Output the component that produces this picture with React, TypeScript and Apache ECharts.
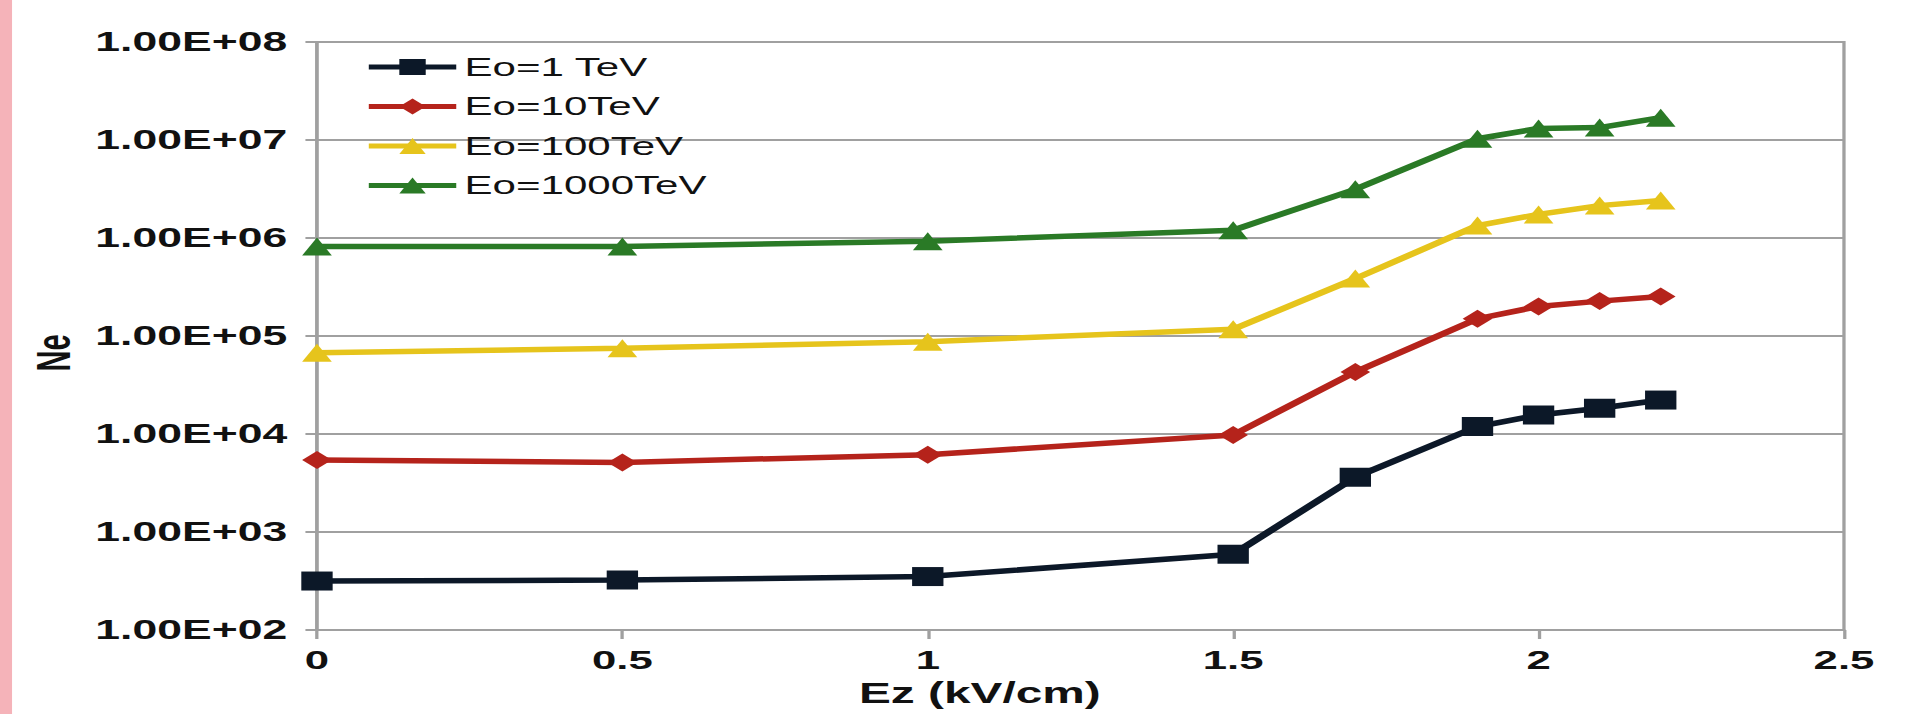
import React, { useEffect, useRef } from "react";
import * as echarts from "echarts";

// ---- data ----
const ezValues = [0, 0.5, 1, 1.5, 1.7, 1.9, 2, 2.1, 2.2];
const seriesNames = ["Eo=1 TeV", "Eo=10TeV", "Eo=100TeV", "Eo=1000TeV"];
const ne1TeV = [316, 323, 351, 593, 3630, 11900, 15600, 18300, 22200];
const ne10TeV = [5430, 5130, 6150, 9770, 43000, 150000, 200000, 227000, 253000];
const ne100TeV = [67600, 74800, 87500, 117000, 385000, 1340000, 1740000, 2140000, 2410000];
const ne1000TeV = [820000, 820000, 925000, 1200000, 3140000, 10300000, 13100000, 13400000, 16900000];
const xTicks = [0, 0.5, 1, 1.5, 2, 2.5];

// ---- layout (the reference image is stretched horizontally) ----
const PAGE_W = 1924;
const PAGE_H = 714;
const CHART_W = 1166;
const SX = PAGE_W / CHART_W;

const colors = ["#0c1828", "#b5231b", "#e6c41c", "#2a7a26"];
const symbols = ["rect", "diamond", "triangle", "triangle"];
const symbolSizes = [19, 18, 18, 18];

function pair(values: number[]) {
  return ezValues.map((x, i) => [x, values[i]]);
}

export default function App() {
  const ref = useRef<HTMLDivElement>(null);

  useEffect(() => {
    if (!ref.current) return;
    const chart = echarts.init(ref.current, null, {
      renderer: "svg",
      width: CHART_W,
      height: PAGE_H,
    });
    const allSeries = [ne1TeV, ne10TeV, ne100TeV, ne1000TeV];
    const font = "'Liberation Sans', Arial, sans-serif";
    chart.setOption({
      animation: false,
      backgroundColor: "#ffffff",
      graphic: [
        {
          type: "rect",
          left: 0,
          top: 0,
          shape: { x: 0, y: 0, width: 7.3, height: PAGE_H },
          style: { fill: "#f5b3b9" },
          silent: true,
        },
      ],
      grid: {
        left: 192.1,
        right: 48.5,
        top: 42,
        bottom: 84,
        show: true,
        borderColor: "#a0a0a0",
        borderWidth: 2,
        backgroundColor: "transparent",
        outerBoundsMode: "none",
      },
      legend: {
        orient: "vertical",
        left: 221,
        top: 54,
        padding: 0,
        itemWidth: 53,
        itemHeight: 20,
        itemGap: 13.5,
        data: seriesNames,
        lineStyle: { width: 5 },
        textStyle: { fontFamily: font, fontSize: 25.5, color: "#111" },
      },
      xAxis: {
        type: "value",
        min: xTicks[0],
        max: xTicks[xTicks.length - 1],
        interval: 0.5,
        name: "Ez (kV/cm)",
        nameLocation: "middle",
        nameGap: 46,
        nameTextStyle: {
          fontFamily: font,
          fontSize: 29,
          fontWeight: "bold",
          color: "#111",
          padding: [0, 122, 0, 0],
        },
        axisLine: { show: true, lineStyle: { color: "#a0a0a0", width: 2 } },
        axisTick: { show: true, length: 9, lineStyle: { color: "#a0a0a0", width: 2 } },
        splitLine: { show: false },
        axisLabel: {
          margin: 16,
          fontFamily: font,
          fontSize: 26.5,
          fontWeight: "bold",
          color: "#111",
        },
      },
      yAxis: {
        type: "log",
        logBase: 10,
        min: 100,
        max: 100000000,
        splitNumber: 6,
        name: "Ne",
        nameLocation: "middle",
        nameGap: 144,
        nameTextStyle: {
          fontFamily: font,
          fontSize: 29,
          fontWeight: "bold",
          color: "#111",
          padding: [0, 34, 0, 0],
        },
        axisLine: { show: true, lineStyle: { color: "#a0a0a0", width: 2 } },
        axisTick: { show: true, length: 7, lineStyle: { color: "#a0a0a0", width: 2 } },
        splitLine: { show: true, lineStyle: { color: "#a0a0a0", width: 2 } },
        minorTick: { show: false },
        axisLabel: {
          margin: 18,
          fontFamily: font,
          fontSize: 27,
          fontWeight: "bold",
          color: "#111",
          formatter: (v: number) => {
            const e = Math.round(Math.log10(v));
            return "1.00E+" + String(e).padStart(2, "0");
          },
        },
      },
      series: allSeries.map((vals, i) => ({
        name: seriesNames[i],
        type: "line",
        data: pair(vals),
        symbol: symbols[i],
        symbolSize: symbolSizes[i],
        showAllSymbol: true,
        color: colors[i],
        itemStyle: { color: colors[i] },
        lineStyle: { color: colors[i], width: 5.5 },
        z: 2 + i,
      })),
    });
    return () => chart.dispose();
  }, []);

  return (
    <div
      style={{
        position: "fixed",
        left: 0,
        top: 0,
        width: PAGE_W,
        height: PAGE_H,
        overflow: "hidden",
        background: "#fff",
      }}
    >
      <div
        ref={ref}
        style={{
          position: "absolute",
          left: 0,
          top: 0,
          width: CHART_W,
          height: PAGE_H,
          transform: `scaleX(${SX})`,
          transformOrigin: "0 0",
        }}
      />
    </div>
  );
}
